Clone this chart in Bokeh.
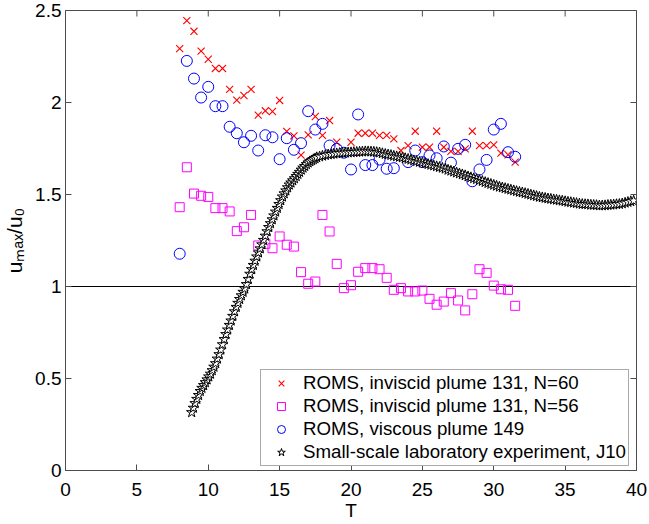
from bokeh.plotting import figure
from bokeh.models import FixedTicker, CustomJSTickFormatter, Span
from bokeh.embed import file_html
from bokeh.resources import INLINE

# ROMS, inviscid plume 131, N=60 (red x)
red_T = [8.0, 8.5, 9.0, 9.5, 10.0, 10.5, 11.0, 11.5, 12.0, 12.5, 13.0, 13.5, 14.0, 14.5,
         15.0, 15.5, 16.0, 16.5, 17.0, 17.5, 18.0, 18.5, 19.0,
         20.0, 20.5, 21.0, 21.5, 22.0, 22.5, 23.0, 23.5, 24.0, 24.5, 25.0, 25.5, 26.0,
         26.5, 27.0, 27.5, 28.0, 28.5, 29.0, 29.5, 30.0, 30.5, 31.0, 31.5]
red_u = [2.293, 2.445, 2.387, 2.279, 2.235, 2.185, 2.185, 2.071, 2.013, 2.038, 2.071, 1.931,
         1.955, 1.951, 2.011, 1.843, 1.819, 1.714, 1.824, 1.924, 1.821, 1.902, 1.784,
         1.784, 1.833, 1.833, 1.833, 1.821, 1.821, 1.802, 1.739, 1.766, 1.844, 1.757, 1.757,
         1.844, 1.757, 1.734, 1.734, 1.748, 1.844, 1.766, 1.766, 1.770, 1.725, 1.716, 1.676]

# ROMS, inviscid plume 131, N=56 (magenta squares)
sq_T = [8.0, 8.5, 9.0, 9.5, 10.0, 10.5, 11.0, 11.5, 12.0, 12.5, 13.0, 13.5, 14.0, 14.5,
        15.0, 15.5, 16.0, 16.5, 17.0, 17.5, 18.0, 18.5, 19.0, 19.5,
        20.0, 20.5, 21.0, 21.5, 22.0, 22.5, 23.0, 23.5, 24.0, 24.5, 25.0, 25.5, 26.0,
        26.5, 27.0, 27.5, 28.0, 28.5, 29.0, 29.5, 30.0, 30.5, 31.0, 31.5]
sq_u = [1.431, 1.648, 1.505, 1.493, 1.487, 1.426, 1.426, 1.408, 1.301, 1.322, 1.389, 1.223,
        1.232, 1.208, 1.272, 1.227, 1.217, 1.078, 1.015, 1.027, 1.389, 1.299, 1.123, 0.991,
        1.007, 1.080, 1.100, 1.100, 1.094, 1.047, 0.982, 0.991, 0.973, 0.973, 0.978, 0.933,
        0.901, 0.918, 0.964, 0.924, 0.870, 0.958, 1.094, 1.074, 1.005, 0.985, 0.982, 0.895]

# ROMS, viscous plume 149 (blue circles)
blue_T = [8.0, 8.5, 9.0, 9.5, 10.0, 10.5, 11.0, 11.5, 12.0, 12.5, 13.0, 13.5, 14.0, 14.5,
          15.0, 15.5, 16.0, 16.5, 17.0, 17.5, 18.0, 18.5, 19.0, 19.5, 20.0, 20.5, 21.0,
          21.5, 22.0, 22.5, 23.0,
          24.0, 24.5, 25.0, 25.5, 26.0, 26.5, 27.0, 27.5, 28.0, 28.5, 29.0, 29.5, 30.0,
          30.5, 31.0, 31.5]
blue_u = [1.178, 2.226, 2.130, 2.027, 2.085, 1.980, 1.980, 1.868, 1.833, 1.784, 1.819, 1.739,
          1.822, 1.811, 1.692, 1.806, 1.743, 1.779, 1.953, 1.853, 1.884, 1.766, 1.748, 1.727,
          1.636, 1.935, 1.660, 1.660, 1.690, 1.640, 1.643,
          1.676, 1.739, 1.676, 1.712, 1.697, 1.761, 1.673, 1.748, 1.770, 1.572, 1.636, 1.688,
          1.853, 1.884, 1.730, 1.705]

# Small-scale laboratory experiment, J10 (black stars)
lab_T_rise = [8.84, 8.96, 9.08, 9.20, 9.32, 9.44, 9.56, 9.68, 9.80, 9.92,
              10.04, 10.16, 10.28, 10.40, 10.52, 10.64, 10.76, 10.88, 11.00, 11.12,
              11.24, 11.36, 11.48, 11.60, 11.72, 11.84, 11.96, 12.08, 12.20, 12.32,
              12.44, 12.56, 12.68, 12.80, 12.92, 13.04, 13.16, 13.28, 13.40, 13.52,
              13.64, 13.76, 13.88, 14.00, 14.12, 14.24, 14.36, 14.48, 14.60, 14.72,
              14.84, 14.96, 15.08, 15.20, 15.32, 15.44, 15.56, 15.68, 15.80, 15.92,
              16.04, 16.16, 16.28, 16.40, 16.52, 16.64, 16.76, 16.88, 17.00, 17.12,
              17.24, 17.36, 17.48, 17.60]
lab_u_rise = [0.316, 0.340, 0.365, 0.388, 0.409, 0.431, 0.448, 0.463, 0.479, 0.494,
              0.510, 0.525, 0.544, 0.563, 0.582, 0.607, 0.631, 0.656, 0.685, 0.713,
              0.740, 0.765, 0.790, 0.814, 0.839, 0.864, 0.888, 0.910, 0.931, 0.951,
              0.970, 0.988, 1.012, 1.040, 1.068, 1.093, 1.116, 1.139, 1.162, 1.184,
              1.206, 1.228, 1.252, 1.275, 1.299, 1.322, 1.343, 1.364, 1.385, 1.406,
              1.426, 1.447, 1.468, 1.488, 1.505, 1.521, 1.538, 1.553, 1.564, 1.576,
              1.587, 1.599, 1.611, 1.622, 1.634, 1.645, 1.654, 1.664, 1.673, 1.680,
              1.685, 1.691, 1.696, 1.702]
lab_T_tail = [17.8, 18.0, 18.2, 18.4, 18.6, 18.8, 19.0, 19.2, 19.4, 19.6,
              19.8, 20.0, 20.2, 20.4, 20.6, 20.8, 21.0, 21.2, 21.4, 21.6,
              21.8, 22.0, 22.2, 22.4, 22.6, 22.8, 23.0, 23.2, 23.4, 23.6,
              23.8, 24.0, 24.2, 24.4, 24.6, 24.8, 25.0, 25.2, 25.4, 25.6,
              25.8, 26.0, 26.2, 26.4, 26.6, 26.8, 27.0, 27.2, 27.4, 27.6,
              27.8, 28.0, 28.2, 28.4, 28.6, 28.8, 29.0, 29.2, 29.4, 29.6,
              29.8, 30.0, 30.2, 30.4, 30.6, 30.8, 31.0, 31.2, 31.4, 31.6,
              31.8, 32.0, 32.2, 32.4, 32.6, 32.8, 33.0, 33.2, 33.4, 33.6,
              33.8, 34.0, 34.2, 34.4, 34.6, 34.8, 35.0, 35.2, 35.4, 35.6,
              35.8, 36.0, 36.2, 36.4, 36.6, 36.8, 37.0, 37.2, 37.4, 37.6,
              37.8, 38.0, 38.2, 38.4, 38.6, 38.8, 39.0, 39.2, 39.4, 39.6,
              39.8]
lab_u_tail = [1.706, 1.710, 1.714, 1.717, 1.719, 1.721, 1.723, 1.725, 1.726, 1.727,
              1.728, 1.729, 1.730, 1.731, 1.732, 1.733, 1.734, 1.734, 1.733, 1.732,
              1.730, 1.728, 1.724, 1.720, 1.717, 1.714, 1.710, 1.707, 1.704, 1.701,
              1.697, 1.693, 1.689, 1.685, 1.681, 1.677, 1.673, 1.669, 1.665, 1.661,
              1.657, 1.653, 1.649, 1.645, 1.640, 1.634, 1.629, 1.624, 1.619, 1.614,
              1.609, 1.604, 1.598, 1.593, 1.588, 1.583, 1.578, 1.573, 1.567, 1.562,
              1.557, 1.552, 1.547, 1.542, 1.538, 1.534, 1.530, 1.526, 1.522, 1.518,
              1.514, 1.511, 1.507, 1.503, 1.499, 1.495, 1.491, 1.487, 1.484, 1.481,
              1.478, 1.476, 1.473, 1.471, 1.468, 1.466, 1.463, 1.460, 1.458, 1.455,
              1.453, 1.450, 1.448, 1.447, 1.446, 1.444, 1.443, 1.442, 1.440, 1.440,
              1.441, 1.443, 1.444, 1.445, 1.447, 1.448, 1.451, 1.455, 1.459, 1.463,
              1.466]
lab_T = lab_T_rise + lab_T_tail
lab_u = lab_u_rise + lab_u_tail

x_ticks = [0, 5, 10, 15, 20, 25, 30, 35, 40]
y_ticks = [0, 0.5, 1, 1.5, 2, 2.5]
reference_level = 1.0
X_MIN, X_MAX, Y_MIN, Y_MAX = 0, 40, 0, 2.5

labels = ["ROMS, inviscid plume 131, N=60",
          "ROMS, inviscid plume 131, N=56",
          "ROMS, viscous plume 149",
          "Small-scale laboratory experiment, J10"]

FONT = "Liberation Sans"
AX_COLOR = "#4d4d4d"
W, H = 649, 524
ML, MR, MT, MB = 65, 13, 10, 54

p = figure(width=W, height=H, x_range=(X_MIN, X_MAX), y_range=(Y_MIN, Y_MAX),
           output_backend="svg", toolbar_location=None,
           min_border_left=ML, min_border_right=MR, min_border_top=MT, min_border_bottom=MB)
p.grid.visible = False
p.outline_line_color = AX_COLOR
p.background_fill_color = "white"
p.border_fill_color = "white"

fmt = CustomJSTickFormatter(code="return String(Math.round(tick*10)/10);")

for ax, ticks in ((p.xaxis[0], x_ticks), (p.yaxis[0], y_ticks)):
    ax.ticker = FixedTicker(ticks=ticks)
    ax.formatter = fmt
    ax.major_tick_in = 6
    ax.major_tick_out = 0
    ax.minor_tick_line_color = None
    ax.axis_line_color = AX_COLOR
    ax.major_tick_line_color = AX_COLOR
    ax.major_label_text_font = FONT
    ax.major_label_text_font_size = "19px"
    ax.major_label_text_color = "black"

p.xaxis.major_label_standoff = 12
p.yaxis.major_label_standoff = 4
p.xaxis.axis_label = "T"
p.xaxis.axis_label_text_font = FONT
p.xaxis.axis_label_text_font_size = "19px"
p.xaxis.axis_label_text_font_style = "normal"
p.xaxis.axis_label_text_color = "black"
p.xaxis.axis_label_standoff = 1

p.yaxis.axis_label = "u\u2098\u2090\u2093/u\u2080"
p.yaxis.axis_label_text_font = FONT
p.yaxis.axis_label_text_font_size = "21px"
p.yaxis.axis_label_text_font_style = "normal"
p.yaxis.axis_label_text_color = "black"
p.yaxis.axis_label_standoff = 6

# inward box ticks on the top and right edges, at the same tick values
frame_w = W - ML - MR
frame_h = H - MT - MB
tick_dx = 6 * (X_MAX - X_MIN) / frame_w
tick_dy = 6 * (Y_MAX - Y_MIN) / frame_h
p.segment(x0=x_ticks, y0=[Y_MAX] * len(x_ticks), x1=x_ticks,
          y1=[Y_MAX - tick_dy] * len(x_ticks), line_color=AX_COLOR, line_width=1)
p.segment(x0=[X_MAX] * len(y_ticks), y0=y_ticks, x1=[X_MAX - tick_dx] * len(y_ticks),
          y1=y_ticks, line_color=AX_COLOR, line_width=1)

p.add_layout(Span(location=reference_level, dimension="width", line_color="black",
                  line_width=1, level="underlay"))

p.scatter(red_T, red_u, marker="x", size=10, line_color="red", line_width=1.1,
          legend_label=labels[0])
p.scatter(sq_T, sq_u, marker="square", size=9, fill_color=None, line_color="magenta",
          line_width=1, legend_label=labels[1])
p.scatter(blue_T, blue_u, marker="circle", size=11, fill_color=None, line_color="blue",
          line_width=1, legend_label=labels[2])
p.scatter(lab_T, lab_u, marker="star", size=11, fill_color="white", line_color="black",
          line_width=1, legend_label=labels[3])

lg = p.legend[0]
lg.location = (195, 4)
lg.label_text_font = FONT
lg.label_text_font_size = "18.7px"
lg.label_text_color = "black"
lg.border_line_color = "#555555"
lg.border_line_width = 1
lg.background_fill_alpha = 1.0
lg.padding = 2
lg.margin = 0
lg.spacing = 1
lg.glyph_width = 36
lg.glyph_height = 20
lg.label_height = 20
lg.label_standoff = 4

open("out.html", "w").write(file_html(p, INLINE))
